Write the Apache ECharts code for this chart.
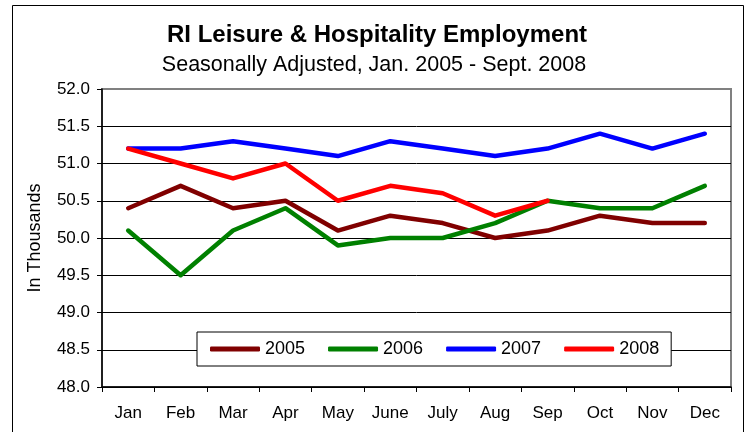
<!DOCTYPE html>
<html>
<head>
<meta charset="utf-8">
<script src="https://cdn.jsdelivr.net/npm/echarts@6/dist/echarts.min.js"></script>
<style>
  html, body { margin: 0; padding: 0; background: #fff; }
  #chart { width: 744px; height: 432px; }
</style>
</head>
<body>
<div id="chart"></div>
<script>
// Month categories along the x axis
const months = ['Jan', 'Feb', 'Mar', 'Apr', 'May', 'June', 'July', 'Aug', 'Sep', 'Oct', 'Nov', 'Dec'];

// Employment in thousands, seasonally adjusted
const y2005 = [50.4, 50.7, 50.4, 50.5, 50.1, 50.3, 50.2, 50.0, 50.1, 50.3, 50.2, 50.2];
const y2006 = [50.1, 49.5, 50.1, 50.4, 49.9, 50.0, 50.0, 50.2, 50.5, 50.4, 50.4, 50.7];
const y2007 = [51.2, 51.2, 51.3, 51.2, 51.1, 51.3, 51.2, 51.1, 51.2, 51.4, 51.2, 51.4];
const y2008 = [51.2, 51.0, 50.8, 51.0, 50.5, 50.7, 50.6, 50.3, 50.5];

const seriesNames = ['2005', '2006', '2007', '2008'];
const seriesData = [y2005, y2006, y2007, y2008];
const seriesColors = ['#800000', '#008000', '#0000FF', '#FF0000'];

// Value axis range and step
const yMin = 48.0, yMax = 52.0, yStep = 0.5;

const font = 'Arial, "Liberation Sans", sans-serif';

const chart = echarts.init(document.getElementById('chart'), null, { renderer: 'canvas' });

// Horizontal grid lines: black inside the plot, grey where the top line meets the frame
const tickCount = Math.round((yMax - yMin) / yStep) + 1;
const splitColors = [];
for (let i = 0; i < tickCount; i++) splitColors.push(i === tickCount - 1 ? '#808080' : '#000000');

chart.setOption({
  animation: false,
  backgroundColor: '#ffffff',
  title: [
    {
      text: 'RI Leisure & Hospitality Employment',
      left: 372, top: 18, textAlign: 'center',
      textStyle: { fontFamily: font, fontSize: 24, fontWeight: 'bold', color: '#000' }
    },
    {
      text: 'Seasonally Adjusted, Jan. 2005 - Sept. 2008',
      left: 369, top: 49, textAlign: 'center',
      textStyle: { fontFamily: font, fontSize: 21.5, fontWeight: 'normal', color: '#000' }
    }
  ],
  graphic: [
    {
      type: 'rect', left: 10, top: 3, silent: true, z: -1,
      shape: { width: 731, height: 440 },
      style: { fill: 'none', stroke: '#000', lineWidth: 1 }
    }
  ],
  legend: {
    data: seriesNames,
    left: 197, top: 332,
    padding: [8, 12, 8, 13],
    itemGap: 23,
    itemWidth: 50,
    itemHeight: 5,
    icon: 'roundRect',
    borderColor: '#000',
    borderWidth: 1,
    backgroundColor: '#fff',
    textStyle: { fontFamily: font, fontSize: 18, color: '#000' }
  },
  grid: {
    left: 102, top: 89, width: 629, height: 298,
    show: true, borderColor: '#808080', borderWidth: 2, backgroundColor: '#fff'
  },
  xAxis: {
    type: 'category',
    data: months,
    boundaryGap: true,
    axisLine: { lineStyle: { color: '#000', width: 1.5 } },
    axisTick: { show: true, length: 5, lineStyle: { color: '#000' } },
    axisLabel: { fontFamily: font, fontSize: 17, color: '#000', margin: 18 },
    splitLine: { show: false }
  },
  yAxis: {
    type: 'value',
    min: yMin, max: yMax, interval: yStep,
    name: 'In Thousands',
    nameLocation: 'middle',
    nameGap: 58,
    nameRotate: 90,
    nameTextStyle: { fontFamily: font, fontSize: 18, color: '#000' },
    axisLine: { show: true, lineStyle: { color: '#000', width: 1.5 } },
    axisTick: { show: true, length: 5, lineStyle: { color: '#000' } },
    axisLabel: {
      fontFamily: font, fontSize: 17, color: '#000', margin: 12,
      formatter: v => v.toFixed(1)
    },
    splitLine: { show: true, lineStyle: { color: splitColors, width: 1 } }
  },
  series: seriesNames.map((name, i) => ({
    name: name,
    type: 'line',
    data: seriesData[i],
    color: seriesColors[i],
    symbol: 'none',
    smooth: false,
    lineStyle: { width: 4.5, color: seriesColors[i], cap: 'round', join: 'round' }
  }))
});
</script>
</body>
</html>
